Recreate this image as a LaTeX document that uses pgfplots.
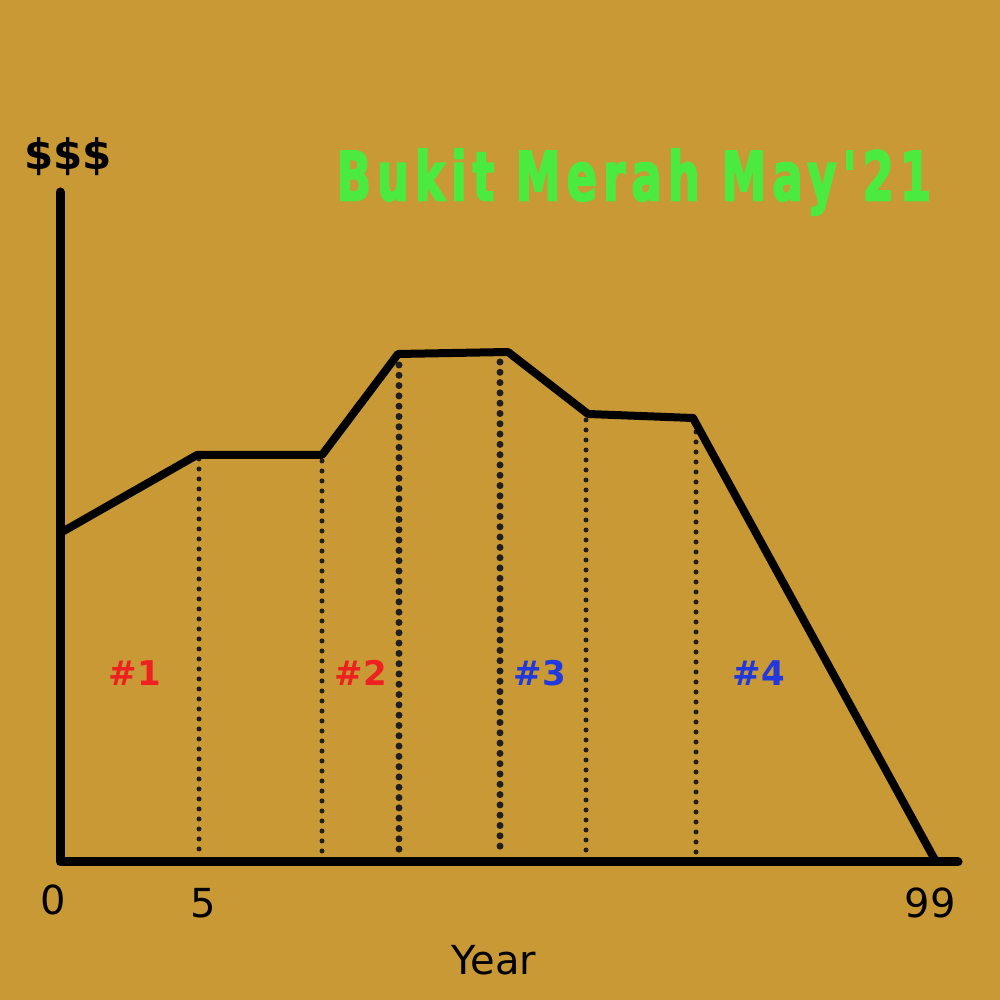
\documentclass[border=0pt]{standalone}
\usepackage{pgfplots}
\pgfplotsset{compat=1.18}
\usepackage{fontspec}
\setmainfont{DejaVu Sans}
\newfontfamily\titlefont{DejaVu Sans Bold}[FakeStretch=0.66,LetterSpace=9,FakeBold=2.5]
\definecolor{bg}{RGB}{201,153,54}
\definecolor{tgreen}{RGB}{74,235,62}
\definecolor{tred}{RGB}{238,32,32}
\definecolor{tblue}{RGB}{32,56,222}
\begin{document}
\begin{tikzpicture}
\begin{axis}[
  width=1000pt, height=1000pt, scale only axis,
  xmin=0, xmax=1000, ymin=0, ymax=1000,
  hide axis, clip=false,
]
\fill[bg] (axis cs:0,0) rectangle (axis cs:1000,1000);
% axes (pixel space, y flipped)
\addplot[black, line width=9pt, line cap=round, line join=round] coordinates {(60,808) (60,138) (958,138)};
% dotted verticals
\addplot[black!88, line width=5pt, line cap=round, dash pattern=on 0pt off 10pt] coordinates {(199,541) (199,144)};
\addplot[black!88, line width=5pt, line cap=round, dash pattern=on 0pt off 10pt] coordinates {(322,539) (322,144)};
\addplot[black!88, line width=7pt, line cap=round, dash pattern=on 0pt off 10.3pt] coordinates {(399,635) (399,144)};
\addplot[black!88, line width=7pt, line cap=round, dash pattern=on 0pt off 10.3pt] coordinates {(500,638) (500,144)};
\addplot[black!88, line width=5pt, line cap=round, dash pattern=on 0pt off 10pt] coordinates {(586,580) (586,144)};
\addplot[black!88, line width=5pt, line cap=round, dash pattern=on 0pt off 10pt] coordinates {(696,578) (696,144)};
% curve
\addplot[black, line width=8pt, line join=round, line cap=round] coordinates {
 (62,468) (197,545) (322,545) (398,646) (508,648) (588,586) (693,582) (935,140)};
% text
\node at (axis cs:68,843) {\bfseries\fontsize{42}{42}\selectfont \$\$\$};
\node at (axis cs:634,818) {\titlefont\fontsize{68}{68}\selectfont\color{tgreen}Bukit Merah May'21};
\node[text=tred] at (axis cs:135,327) {\bfseries\fontsize{34}{34}\selectfont \#1};
\node[text=tred] at (axis cs:361,327) {\bfseries\fontsize{34}{34}\selectfont \#2};
\node[text=tblue] at (axis cs:540,327) {\bfseries\fontsize{34}{34}\selectfont \#3};
\node[text=tblue] at (axis cs:759,327) {\bfseries\fontsize{34}{34}\selectfont \#4};
\node at (axis cs:53,100) {\fontsize{40}{40}\selectfont 0};
\node at (axis cs:203,97) {\fontsize{40}{40}\selectfont 5};
\node at (axis cs:930,97) {\fontsize{40}{40}\selectfont 99};
\node at (axis cs:494,40) {\fontsize{40}{40}\selectfont Year};
\end{axis}
\end{tikzpicture}
\end{document}
